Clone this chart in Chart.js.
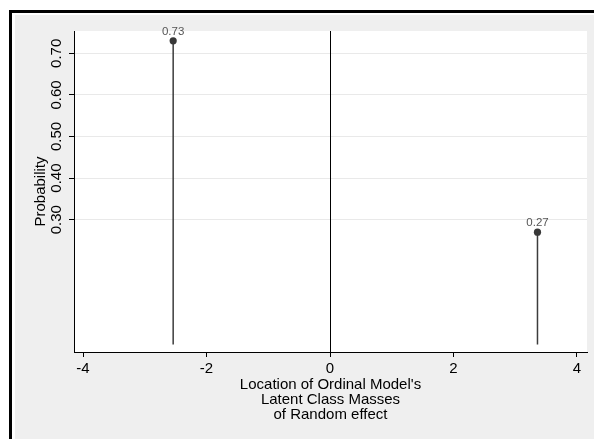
<!DOCTYPE html>
<html>
<head>
<meta charset="utf-8">
<script src="https://cdn.jsdelivr.net/npm/chart.js@4"></script>
<style>
  html, body { margin: 0; padding: 0; background: #fff; }
  canvas { display: block; }
</style>
</head>
<body>
<canvas id="massChart" width="594" height="439"></canvas>
<script>
// latent class masses: location and probability
const locations = [-2.54, 3.36];
const probs = [0.73, 0.27];
const probLabels = ['0.73', '0.27'];
const xTicks = [-4, -2, 0, 2, 4];
const yTicks = [0.3, 0.4, 0.5, 0.6, 0.7];
const yTickLabels = ['0.30', '0.40', '0.50', '0.60', '0.70'];

const FONT = "'Liberation Sans', Arial, sans-serif";

// stata-ish background: frame, gray outer region, white plot region
const backdrop = {
    id: 'backdrop',
    beforeDraw(chart) {
        const { ctx, width, height, chartArea } = chart;
        ctx.save();
        ctx.fillStyle = '#fff';
        ctx.fillRect(0, 0, width, height);
        ctx.fillStyle = '#000';
        ctx.fillRect(9, 10, width - 9, 3);
        ctx.fillRect(9, 10, 3, height - 10);
        ctx.fillStyle = '#efefef';
        ctx.fillRect(15, 15, width - 15, height - 15);
        ctx.fillStyle = '#fff';
        ctx.fillRect(chartArea.left, chartArea.top, chartArea.right - chartArea.left, chartArea.bottom - chartArea.top);
        ctx.restore();
    }
};

// spikes from 0 up to each mass, plus the reference line at x = 0
const spikes = {
    id: 'spikes',
    beforeDatasetsDraw(chart) {
        const { ctx, chartArea, scales: { x, y } } = chart;
        ctx.save();
        const x0 = Math.round(x.getPixelForValue(0)) + 0.5;
        ctx.strokeStyle = '#000';
        ctx.lineWidth = 1;
        ctx.beginPath();
        ctx.moveTo(x0, chartArea.top);
        ctx.lineTo(x0, chartArea.bottom);
        ctx.stroke();

        ctx.strokeStyle = '#3c3c3c';
        ctx.lineWidth = 1.5;
        locations.forEach((loc, i) => {
            const px = x.getPixelForValue(loc);
            ctx.beginPath();
            ctx.moveTo(px, y.getPixelForValue(0));
            ctx.lineTo(px, y.getPixelForValue(probs[i]));
            ctx.stroke();
        });
        ctx.restore();
    },
    afterDatasetsDraw(chart) {
        const { ctx, scales: { x, y } } = chart;
        ctx.save();
        ctx.fillStyle = '#555';
        ctx.font = '11.5px ' + FONT;
        ctx.textAlign = 'center';
        ctx.textBaseline = 'alphabetic';
        locations.forEach((loc, i) => {
            ctx.fillText(probLabels[i], x.getPixelForValue(loc), y.getPixelForValue(probs[i]) - 6);
        });
        ctx.restore();
    }
};

// vertical axis labels are rotated like the original
const rotatedYLabels = {
    id: 'rotatedYLabels',
    afterDraw(chart) {
        const { ctx, scales: { y } } = chart;
        ctx.save();
        ctx.fillStyle = '#000';
        ctx.font = '15px ' + FONT;
        ctx.textAlign = 'center';
        ctx.textBaseline = 'middle';
        yTicks.forEach((v, i) => {
            ctx.save();
            ctx.translate(57, y.getPixelForValue(v));
            ctx.rotate(-Math.PI / 2);
            ctx.fillText(yTickLabels[i], 0, 0);
            ctx.restore();
        });
        ctx.restore();
    }
};

new Chart(document.getElementById('massChart'), {
    type: 'scatter',
    data: {
        datasets: [{
            data: locations.map((loc, i) => ({ x: loc, y: probs[i] })),
            backgroundColor: '#383838',
            borderWidth: 0,
            pointRadius: 3.6,
            pointHoverRadius: 3.6
        }]
    },
    options: {
        responsive: false,
        animation: false,
        devicePixelRatio: 1,
        layout: { padding: { top: 31, right: 7, left: 0, bottom: 0 } },
        plugins: {
            legend: { display: false },
            tooltip: { enabled: false }
        },
        scales: {
            x: {
                type: 'linear',
                min: -4.146,
                max: 4.162,
                afterFit: (scale) => { scale.height = 87; },
                afterBuildTicks: (scale) => { scale.ticks = xTicks.map(v => ({ value: v })); },
                border: { color: '#000', width: 1 },
                grid: { drawOnChartArea: false, tickColor: '#000', tickLength: 5 },
                ticks: {
                    includeBounds: false,
                    maxRotation: 0,
                    color: '#000',
                    padding: 3,
                    font: { family: FONT, size: 15 }
                },
                title: {
                    display: true,
                    text: ["Location of Ordinal Model's", 'Latent Class Masses', 'of Random effect'],
                    color: '#000',
                    font: { family: FONT, size: 15, lineHeight: '15px' },
                    padding: { top: 0, bottom: 16.5 }
                }
            },
            y: {
                type: 'linear',
                min: -0.018,
                max: 0.7536,
                afterFit: (scale) => { scale.width = 74; },
                afterBuildTicks: (scale) => { scale.ticks = yTicks.map(v => ({ value: v })); },
                border: { color: '#000', width: 1 },
                grid: { color: '#e9e9e9', tickColor: '#000', tickLength: 5 },
                ticks: { display: false, includeBounds: false },
                title: {
                    display: true,
                    text: 'Probability',
                    color: '#000',
                    font: { family: FONT, size: 15, lineHeight: '16px' },
                    padding: { top: 33, bottom: 0 }
                }
            }
        }
    },
    plugins: [backdrop, spikes, rotatedYLabels]
});
</script>
</body>
</html>
